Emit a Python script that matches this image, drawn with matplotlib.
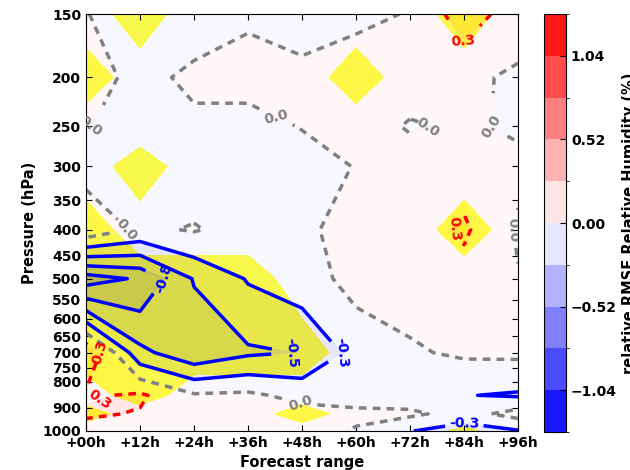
import numpy as np
import matplotlib
matplotlib.use('Agg')
import matplotlib.pyplot as plt
from matplotlib.colors import ListedColormap, BoundaryNorm
from matplotlib.cm import ScalarMappable

plt.rcParams['font.family'] = ['DejaVu Sans']
plt.rcParams['font.weight'] = 'bold'
plt.rcParams['axes.labelweight'] = 'bold'

# forecast steps (h) and pressure levels (hPa)
steps = [0, 12, 24, 36, 48, 60, 72, 84, 96]
step_labels = ['+00h', '+12h', '+24h', '+36h', '+48h', '+60h', '+72h', '+84h', '+96h']
pressure = [150, 200, 250, 300, 400, 500, 700, 850, 925, 1000]
p_ticks = [150, 200, 250, 300, 350, 400, 450, 500, 550, 600, 650, 700, 750, 800, 900, 1000]

# relative RMSE difference, one row per pressure level
rmse = np.array([
    [0.01, -0.15, -0.12, -0.03, -0.10, -0.04, 0.01, 0.40, 0.12],
    [0.10, -0.07, 0.05, 0.08, 0.06, 0.10, 0.10, 0.05, -0.04],
    [0.01, -0.10, -0.05, -0.08, 0.01, 0.10, -0.02, 0.03, -0.03],
    [-0.10, -0.12, -0.15, -0.10, -0.10, 0.01, 0.10, 0.15, 0.05],
    [0.20, -0.05, 0.02, -0.10, -0.10, 0.20, 0.10, 0.30, -0.03],
    [-1.17, -1.00, -0.50, -0.24, -0.12, 0.09, 0.10, 0.16, 0.015],
    [0.50, -0.45, -0.71, -0.56, -0.51, -0.17, -0.03, 0.04, 0.05],
    [0.22, 0.30, 0.03, 0.05, -0.08, -0.10, -0.15, -0.25, -0.29],
    [0.30, 0.24, 0.15, 0.12, 0.10, 0.05, 0.05, -0.10, 0.10],
    [0.15, 0.15, 0.12, 0.10, 0.10, -0.02, -0.25, -0.40, -0.28],
])

# significance mask
signif = np.array([
    [0, 1, 0, 0, 0, 0, 0, 1, 0],
    [1, 0, 0, 0, 0, 1, 0, 0, 0],
    [0, 0, 0, 0, 0, 0, 0, 0, 0],
    [0, 1, 0, 0, 0, 0, 0, 0, 0],
    [1, 0, 0, 0, 0, 0, 0, 1, 0],
    [1, 1, 1, 1, 0, 0, 0, 0, 0],
    [1, 1, 1, 1, 1, 0, 0, 0, 0],
    [0, 1, 0, 0, 0, 0, 0, 0, 0],
    [0.9, 0, 0, 0, 1, 0, 0, 0, 0],
    [0, 0, 0, 0, 0, 0, 0, 0.7, 0],
])

levels = np.round(np.linspace(-1.3, 1.3, 11), 2)
cbar_ticks = [-1.04, -0.52, 0.0, 0.52, 1.04]

cmap = ListedColormap(plt.get_cmap('bwr')((np.arange(10) + 0.5) / 10))
norm = BoundaryNorm(levels, cmap.N)

fig = plt.figure(figsize=(6.3, 4.7), dpi=100)
ax = fig.add_axes([0.1365, 0.083, 0.686, 0.887])
cax = fig.add_axes([0.8635, 0.081, 0.035, 0.889])

ax.contourf(steps, pressure, signif, levels=[0.5, 1.5], colors=['yellow'])
ax.contourf(steps, pressure, rmse, levels=levels, cmap=cmap, norm=norm, alpha=0.3)

dash = [(0, (2.2, 1.8))]
cs_neg = ax.contour(steps, pressure, rmse, levels=levels[1:5], colors='blue',
                    linewidths=2.5, linestyles='solid')
cs_zero = ax.contour(steps, pressure, rmse, levels=[0.0], colors='gray',
                     linewidths=2.5, linestyles=dash)
cs_pos = ax.contour(steps, pressure, rmse, levels=levels[6:10], colors='red',
                    linewidths=2.5, linestyles=dash)

# label spots picked to match the original figure
ax.clabel(cs_neg, fmt='%1.1f', fontsize=10,
          manual=[(17.3, 500), (47, 700), (58, 700), (84, 955)])
ax.clabel(cs_zero, fmt='%1.1f', fontsize=10,
          manual=[(1, 250), (9, 400), (42, 247), (76, 250), (90, 250),
                  (93.5, 400), (48, 875)])
ax.clabel(cs_pos, fmt='%1.1f', fontsize=10,
          manual=[(84, 168), (82, 400), (4, 700), (4, 880)])

ax.set_yscale('log')
ax.set_ylim(1000, 150)
ax.set_xlim(0, 96)
ax.set_yticks(p_ticks)
ax.set_yticklabels([str(p) for p in p_ticks])
ax.yaxis.set_minor_locator(matplotlib.ticker.NullLocator())
ax.set_xticks(steps)
ax.set_xticklabels(step_labels)
ax.tick_params(direction='in', top=True, right=True, length=4, labelsize=10)
ax.set_xlabel('Forecast range', fontsize=10.5)
ax.set_ylabel('Pressure (hPa)', fontsize=10.5)

cbar = fig.colorbar(ScalarMappable(norm=norm, cmap=cmap), cax=cax, ticks=cbar_ticks)
cbar.ax.tick_params(direction='in', length=4, labelsize=10)
cbar.set_label('relative RMSE Relative Humidity (%)', fontsize=10.5)

fig.savefig('out.png', dpi=100)
